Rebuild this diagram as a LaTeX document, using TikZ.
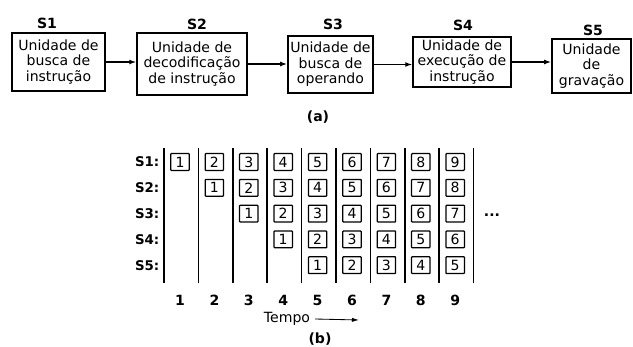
\documentclass[tikz,border=0pt]{standalone}
\usepackage{fontspec}
\setmainfont{DejaVu Sans}
\usepackage{tikz}
\usetikzlibrary{positioning, calc, arrows.meta}
\tikzset{
	stagebox/.style={
			shape=rectangle,
			draw=black,
			line width=1pt,
			align=center,
			inner sep=1pt,
			font=\fontsize{10}{11}\selectfont
		},
	slotbox/.style={
			shape=rectangle,
			draw=black,
			line width=0.9pt,
			rounded corners=0.5pt,
			minimum width=4.6mm,
			minimum height=4.2mm,
			inner sep=0pt,
			font=\fontsize{10}{11}\selectfont
		},
	boldlabel/.style={font=\fontsize{10}{11}\selectfont\bfseries},
	rowlabel/.style={anchor=east, inner sep=1pt, font=\fontsize{9.5}{10}\selectfont\bfseries},
	flowarrow/.style={-{Latex[length=5pt,width=3.5pt]}, line width=0.9pt}
}

\begin{document}
\begin{tikzpicture}[x=0.025cm, y=-0.025cm]

              \useasboundingbox (0,0) rectangle (633,347);

              % (a) the five stages
              \node[stagebox, minimum width=2.33cm, minimum height=1.45cm] (b1) at (58.5,62) {Unidade de\\busca de\\instrução};
              \node[stagebox, minimum width=2.75cm, minimum height=1.55cm] (b2) at (192,64) {Unidade de\\decodificação\\de instrução};
              \node[stagebox, minimum width=2.13cm, minimum height=1.43cm] (b3) at (330.5,64.5) {Unidade de\\busca de\\operando};
              \node[stagebox, minimum width=2.45cm, minimum height=1.25cm] (b4) at (462,62) {Unidade de\\execução de\\instrução};
              \node[stagebox, minimum width=1.98cm, minimum height=1.35cm] (b5) at (591.5,66) {Unidade\\de\\gravação};

              \node[boldlabel] (s1) at (47,23) {S1};
              \node[boldlabel] (s2) at (197,24) {S2};
              \node[boldlabel] (s3) at (333,24) {S3};
              \node[boldlabel] (s4) at (463,25) {S4};
              \node[boldlabel] (s5) at (593,30) {S5};

              \draw[flowarrow] (b1.east) -- (b1.east -| b2.west);
              \draw[flowarrow] (b2.east) -- (b2.east -| b3.west);
              \draw[flowarrow] (b3.east) -- (b3.east -| b4.west);
              \draw[flowarrow] (b4.east) -- (b4.east -| b5.west);

              \node[boldlabel] (capa) at (318,117) {(a)};

              % (b) the pipeline in time
              \foreach \k in {0,...,9}
                \draw[line width=1.2pt] ({164+34.4*\k},148) -- ({164+34.4*\k},283);

              \foreach \r in {1,...,5}
                \node[rowlabel] (row\r) at (161,{162+25.8*(\r-1)}) {S\r:};

              \foreach \c in {1,...,9} {
                \node[boldlabel] (col\c) at ({180+34.4*(\c-1)},300) {\c};
                \pgfmathtruncatemacro{\last}{min(\c,5)}
                \foreach \r in {1,...,\last} {
                  \pgfmathtruncatemacro{\instr}{\c-\r+1}
                  \node[slotbox] (slot\c\r) at ({180+34.4*(\c-1)},{162+25.8*(\r-1)}) {\instr};
                }
              }

              \node[boldlabel] (dots) at (492,215) {...};

              \node[font=\fontsize{10}{11}\selectfont] (tempo) at (287,319) {Tempo};
              \coordinate (tempoend) at (359,320);
              \draw[-{Latex[length=5pt,width=3pt]}, line width=0.6pt] (tempo.east) -- (tempoend);

              \node[boldlabel] (capb) at (320,339) {(b)};

            \end{tikzpicture}
\end{document}
